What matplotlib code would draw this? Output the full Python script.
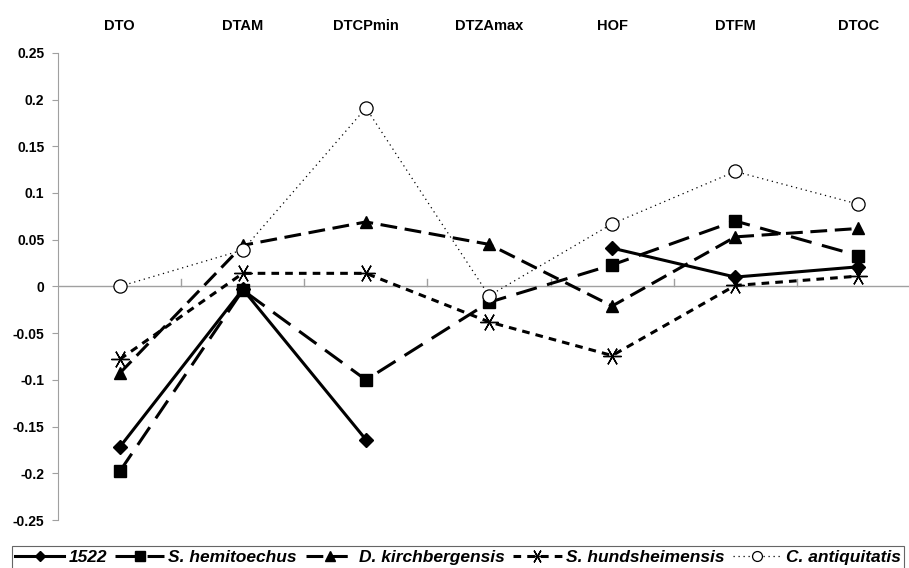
import numpy as np
import matplotlib
matplotlib.use("Agg")
import matplotlib.pyplot as plt

plt.rcParams['font.family'] = ['Liberation Sans', 'DejaVu Sans']

traits = ['DTO', 'DTAM', 'DTCPmin', 'DTZAmax', 'HOF', 'DTFM', 'DTOC']

v1522 = [-0.172, -0.003, -0.164, np.nan, 0.041, 0.010, 0.021]
hemitoechus = [-0.198, -0.004, -0.100, -0.017, 0.023, 0.070, 0.033]
kirchbergensis = [-0.093, 0.044, 0.069, 0.045, -0.021, 0.053, 0.062]
hundsheimensis = [-0.078, 0.014, 0.014, -0.038, -0.074, 0.001, 0.011]
antiquitatis = [0.0, 0.039, 0.191, -0.010, 0.067, 0.123, 0.088]

y_ticks = [0.25, 0.2, 0.15, 0.1, 0.05, 0, -0.05, -0.1, -0.15, -0.2, -0.25]
y_labels = ['0.25', '0.2', '0.15', '0.1', '0.05', '0', '-0.05', '-0.1', '-0.15', '-0.2', '-0.25']

fig = plt.figure(figsize=(9.09, 5.68), dpi=100)
ax = fig.add_axes([0.064, 0.0845, 0.948, 0.8225])
x = np.arange(len(traits))

ax.plot(x, v1522, color='black', lw=2.2, ls='-', marker='D', ms=7,
        label='1522')
ax.plot(x, hemitoechus, color='black', lw=2.2, ls=(0, (7, 3.5)), marker='s', ms=9,
        label='S. hemitoechus')
ax.plot(x, kirchbergensis, color='black', lw=2.2, ls=(0, (5.5, 2.5)), marker='^', ms=9,
        label='D. kirchbergensis')
ax.plot(x, hundsheimensis, color='black', lw=2.2, ls=(0, (2.5, 2)), marker=(6, 2, 90), ms=13,
        mew=1.0, label='S. hundsheimensis')
ax.plot(x, antiquitatis, color='black', lw=0.9, ls=(0, (1, 3)), marker='o', ms=9.5,
        mfc='white', mec='black', mew=0.9, label='C. antiquitatis')

ax.set_xlim(-0.5, 6.5)
ax.set_ylim(-0.25, 0.25)
ax.set_yticks(y_ticks)
ax.set_yticklabels(y_labels, fontweight='bold', fontsize=10)
ax.tick_params(axis='y', direction='out', length=4, color='#a0a0a0', pad=6)
ax.set_xticks([])

for s in ['top', 'right', 'bottom']:
    ax.spines[s].set_visible(False)
ax.spines['left'].set_color('#a0a0a0')
ax.axhline(0, color='#a0a0a0', lw=1, zorder=0)
for xb in np.arange(0.5, 6.5, 1.0):
    ax.plot([xb, xb], [0, 0.008], color='#a0a0a0', lw=1, zorder=0)

for i, t in enumerate(traits):
    ax.text(i, 1.058, t, transform=ax.get_xaxis_transform(), ha='center', va='center',
            fontweight='bold', fontsize=10.5)

leg = fig.legend(loc='lower left', bbox_to_anchor=(0.013, -0.001), ncol=5,
                 prop={'weight': 'bold', 'style': 'italic', 'size': 12.5},
                 frameon=True, fancybox=False, handlelength=2.8, handletextpad=0.25,
                 columnspacing=0.5, borderpad=0.2, borderaxespad=0.0, markerscale=0.75)
leg.get_frame().set_edgecolor('#404040')
leg.get_frame().set_linewidth(0.8)

fig.savefig('out.png', dpi=100)
